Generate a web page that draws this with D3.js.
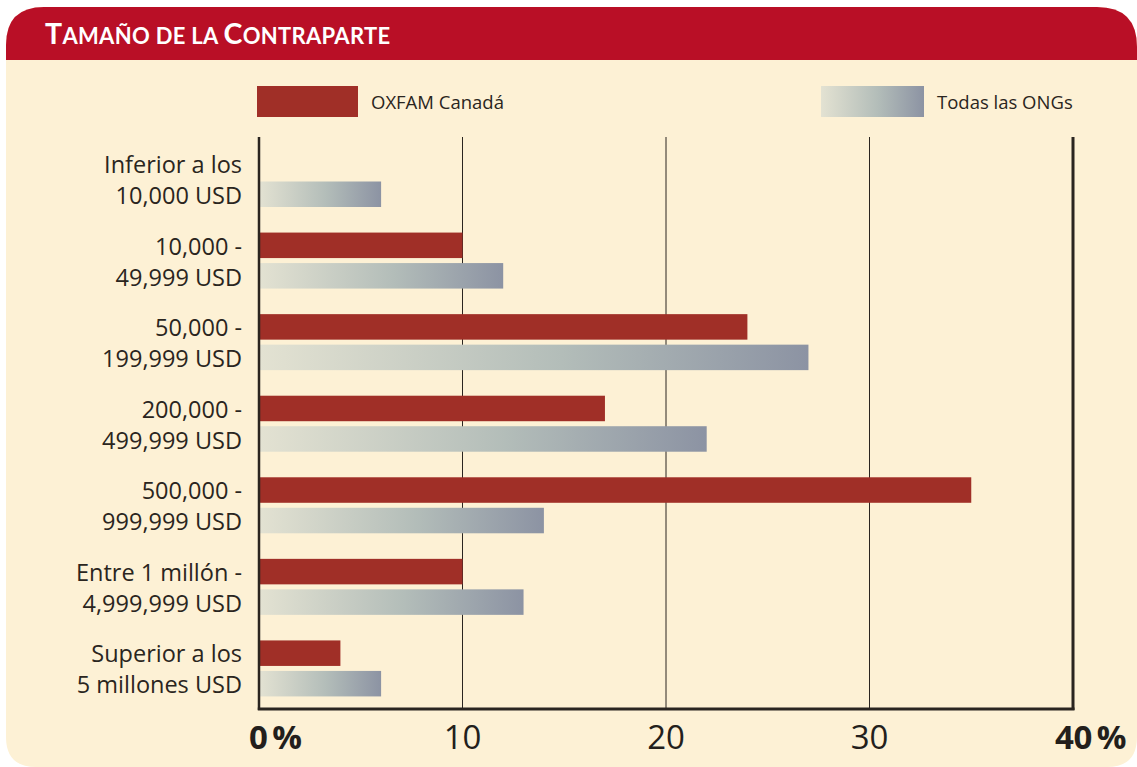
<!DOCTYPE html>
<html><head><meta charset="utf-8">
<script src="https://cdn.jsdelivr.net/npm/d3@7"></script>
<style>body{margin:0;background:#fff}svg{display:block}</style>
</head><body>
<script>
const categories = [
  ["Inferior a los", "10,000 USD"],
  ["10,000 -", "49,999 USD"],
  ["50,000 -", "199,999 USD"],
  ["200,000 -", "499,999 USD"],
  ["500,000 -", "999,999 USD"],
  ["Entre 1 millón -", "4,999,999 USD"],
  ["Superior a los", "5 millones USD"]
];
const oxfam = [0, 10, 24, 17, 35, 10, 4];
const todas = [6, 12, 27, 22, 14, 13, 6];
const seriesNames = ["OXFAM Canadá", "Todas las ONGs"];
const tickValues = [0, 10, 20, 30, 40];
const tickLabels = ["0\u2009%", "10", "20", "30", "40\u2009%"];

const W = 1137, H = 767;
const font = "'Open Sans', sans-serif";
const svg = d3.select("body").append("svg").attr("width", W).attr("height", H);
const defs = svg.append("defs");
const grad = defs.append("linearGradient").attr("id", "g").attr("x1", 0).attr("x2", 1).attr("y1", 0).attr("y2", 0);
grad.append("stop").attr("offset", "0%").attr("stop-color", "#e3e2d2");
grad.append("stop").attr("offset", "55%").attr("stop-color", "#b3bdb9");
grad.append("stop").attr("offset", "100%").attr("stop-color", "#8c93a3");

// panel
const x0 = 6, y0 = 7, r1 = 38, r2 = 30;
const path = `M${x0},${y0 + r1} Q${x0},${y0} ${x0 + r1},${y0} L${W - 40},${y0} Q${W},${y0} ${W},${y0 + 40} L${W},${H - r2} Q${W},${H} ${W - r2},${H} L${x0 + r2},${H} Q${x0},${H} ${x0},${H - r2} Z`;
defs.append("clipPath").attr("id", "pc").append("path").attr("d", path);
const panel = svg.append("g").attr("clip-path", "url(#pc)");
panel.append("rect").attr("x", 0).attr("y", 0).attr("width", W).attr("height", H).attr("fill", "#fdf1d5");
panel.append("rect").attr("x", 0).attr("y", 0).attr("width", W).attr("height", 60).attr("fill", "#b90f26");

const title = svg.append("text").attr("x", 45).attr("y", 44).attr("fill", "#fff")
  .attr("font-family", "Lato, 'Open Sans', sans-serif").attr("font-weight", "bold")
  .attr("letter-spacing", 0.3);
[["T", 28.5], ["AMAÑO DE LA ", 22], ["C", 28.5], ["ONTRAPARTE", 22]].forEach(([t, s]) => {
  title.append("tspan").attr("font-size", s).text(t);
});

// scales
const x = d3.scaleLinear().domain([0, 40]).range([259, 1073]);
const y = d3.scaleBand().domain(d3.range(categories.length)).range([141, 712]).paddingInner(0).paddingOuter(0);
const barH = 25.5, gap = 5;

const g = svg.append("g");
// grid
g.selectAll("line.grid").data([10, 20, 30]).join("line")
  .attr("x1", d => x(d)).attr("x2", d => x(d)).attr("y1", 137).attr("y2", 709)
  .attr("stroke", "#2a2520").attr("stroke-width", 1);

// bars
g.selectAll("rect.ox").data(oxfam).join("rect")
  .attr("x", x(0)).attr("width", d => x(d) - x(0))
  .attr("y", (d, i) => y(i) + 10).attr("height", barH).attr("fill", "#a02f27");
g.selectAll("rect.td").data(todas).join("rect")
  .attr("x", x(0)).attr("width", d => x(d) - x(0))
  .attr("y", (d, i) => y(i) + 10 + barH + gap).attr("height", barH).attr("fill", "url(#g)");

// axes frame
g.append("line").attr("x1", x(0)).attr("x2", x(0)).attr("y1", 137).attr("y2", 710).attr("stroke", "#2a2520").attr("stroke-width", 2.5);
g.append("line").attr("x1", x(40)).attr("x2", x(40)).attr("y1", 137).attr("y2", 710).attr("stroke", "#2a2520").attr("stroke-width", 3);
g.append("line").attr("x1", x(0) - 1.2).attr("x2", x(40) + 1.5).attr("y1", 709).attr("y2", 709).attr("stroke", "#2a2520").attr("stroke-width", 3);

// category labels
const lab = g.selectAll("text.cat").data(categories).join("text")
  .attr("text-anchor", "end").attr("font-family", font).attr("font-size", 23.5).attr("fill", "#2a2520");
lab.append("tspan").attr("x", 242).attr("y", (d, i) => y(i) + 32).text(d => d[0]);
lab.append("tspan").attr("x", 242).attr("y", (d, i) => y(i) + 63).text(d => d[1]);

// tick labels
g.selectAll("text.tick").data(tickValues).join("text")
  .attr("x", (d, i) => i === 0 ? x(d) - 10 : i === 4 ? 1126 : x(d))
  .attr("y", 749)
  .attr("text-anchor", (d, i) => i === 0 ? "start" : i === 4 ? "end" : "middle")
  .attr("font-family", font).attr("font-size", 33)
  .attr("font-weight", (d, i) => (i === 0 || i === 4) ? "bold" : "normal")
  .attr("letter-spacing", (d, i) => (i === 0 || i === 4) ? -0.5 : 0)
  .attr("fill", "#231f1c").text((d, i) => tickLabels[i]);

// legend
const leg = svg.append("g");
leg.append("rect").attr("x", 257).attr("y", 86).attr("width", 101).attr("height", 31).attr("fill", "#a02f27");
leg.append("text").attr("x", 371).attr("y", 109).attr("font-family", font).attr("font-size", 18.5).attr("fill", "#2a2520").text(seriesNames[0]);
leg.append("rect").attr("x", 821).attr("y", 86).attr("width", 103).attr("height", 31).attr("fill", "url(#g)");
leg.append("text").attr("x", 937).attr("y", 109).attr("font-family", font).attr("font-size", 18.5).attr("fill", "#2a2520").text(seriesNames[1]);
</script>
</body></html>
